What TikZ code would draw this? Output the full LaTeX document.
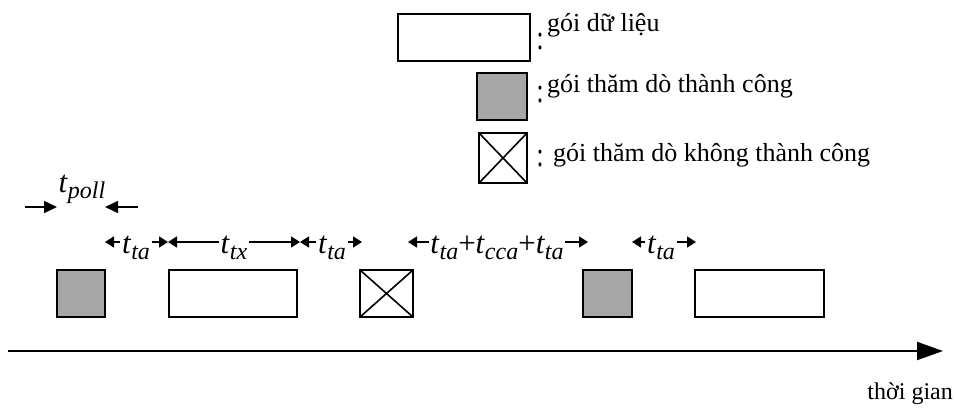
\documentclass[tikz,border=0pt]{standalone}
\usepackage{fontspec}
\setmainfont{Liberation Serif}
\usetikzlibrary{arrows.meta}
% italic t with an italic subscript, as in the timing labels
\newcommand\tsym[1]{\textit{t}\raisebox{-0.22em}{\fontsize{24}{24}\selectfont\textit{#1}}}
\begin{document}
\begin{tikzpicture}[x=1pt,y=-1pt,
  pkt/.style={draw,line width=2pt,inner sep=0pt,outer sep=0pt},
  datapkt/.style={pkt,fill=white,minimum width=#1,minimum height=47pt},
  okpkt/.style={pkt,fill=black!35,minimum width=#1,minimum height=47pt},
  failpkt/.style={pkt,fill=white,minimum width=#1,minimum height=48pt},
  legtext/.style={anchor=base west,inner sep=0pt,font=\fontsize{26}{30}\selectfont},
  colon/.style={inner sep=0pt,font=\fontsize{25}{30}\selectfont},
  tlabel/.style={anchor=base,inner sep=1.5pt,font=\fontsize{31}{34}\selectfont},
  span/.style={line width=1.6pt,-{Triangle[length=9pt,width=11pt]}},
  pollarr/.style={line width=1.6pt,-{Triangle[length=13pt,width=12pt]}},
  axis/.style={line width=2pt,-{Triangle[length=26pt,width=18pt]}}
]
\useasboundingbox (0,0) rectangle (956,408);

% legend
\node[datapkt=132pt] (ld) at (464,37) {};
\node[okpkt=50pt] (lo) at (502,96.5) {};
\node[failpkt=48pt,minimum height=50pt] (lf) at (503,158) {};
\draw[line width=1.6pt] (lf.north west) -- (lf.south east) (lf.north east) -- (lf.south west);
\node[colon] (c1) at (540,41.5) {\scalebox{1}[1.4]{:}};
\node[colon] (c2) at (540,95) {\scalebox{1}[1.4]{:}};
\node[colon] (c3) at (540,158.5) {\scalebox{1}[1.4]{:}};
\node[legtext] (t1) at (547,31) {gói dữ liệu};
\node[legtext] (t2) at (547,92) {gói thăm dò thành công};
\node[legtext] (t3) at (553,161) {gói thăm dò không thành công};

% packets on the time line
\node[okpkt=48pt] (g1) at (81,293.5) {};
\node[datapkt=128pt] (d1) at (233,293.5) {};
\node[failpkt=53pt,minimum height=47pt] (x1) at (386.5,293.5) {};
\draw[line width=1.6pt] (x1.north west) -- (x1.south east) (x1.north east) -- (x1.south west);
\node[okpkt=49pt] (g2) at (607.5,293.5) {};
\node[datapkt=129pt] (d2) at (759.5,293.5) {};

% polling period
\node[tlabel] (tp) at (82,192) {\tsym{poll}};
\coordinate (pa) at (25,207);
\coordinate (pb) at (138,207);
\draw[pollarr] (pa) -- (g1.west |- pa);
\draw[pollarr] (pb) -- (g1.east |- pb);

% interval marks
\coordinate (b0) at (105,242);
\coordinate (b1) at (168,242);
\coordinate (b2) at (300,242);
\coordinate (b3) at (362,242);
\coordinate (b4) at (408,242);
\coordinate (b5) at (588,242);
\coordinate (b6) at (632,242);
\coordinate (b7) at (696,242);

\node[tlabel] (s1) at (136,253) {\tsym{ta}};
\node[tlabel] (s2) at (234,253) {\tsym{tx}};
\node[tlabel] (s3) at (332,253) {\tsym{ta}};
\node[tlabel] (s4) at (497,253) {\tsym{ta}+\tsym{cca}+\tsym{ta}};
\node[tlabel] (s5) at (661,253) {\tsym{ta}};

\draw[span] (s1.west |- b0) -- (b0);
\draw[span] (s1.east |- b1) -- (b1);
\draw[span] (s2.west |- b1) -- (b1);
\draw[span] (s2.east |- b2) -- (b2);
\draw[span] (s3.west |- b2) -- (b2);
\draw[span] (s3.east |- b3) -- (b3);
\draw[span] (s4.west |- b4) -- (b4);
\draw[span] (s4.east |- b5) -- (b5);
\draw[span] (s5.west |- b6) -- (b6);
\draw[span] (s5.east |- b7) -- (b7);

% time axis
\coordinate (a0) at (8,351);
\coordinate (a1) at (943,351);
\draw[axis] (a0) -- (a1);
\node[anchor=base east,inner sep=0pt,font=\fontsize{24}{28}\selectfont] (tg) at (953,399) {thời gian};
\end{tikzpicture}
\end{document}
